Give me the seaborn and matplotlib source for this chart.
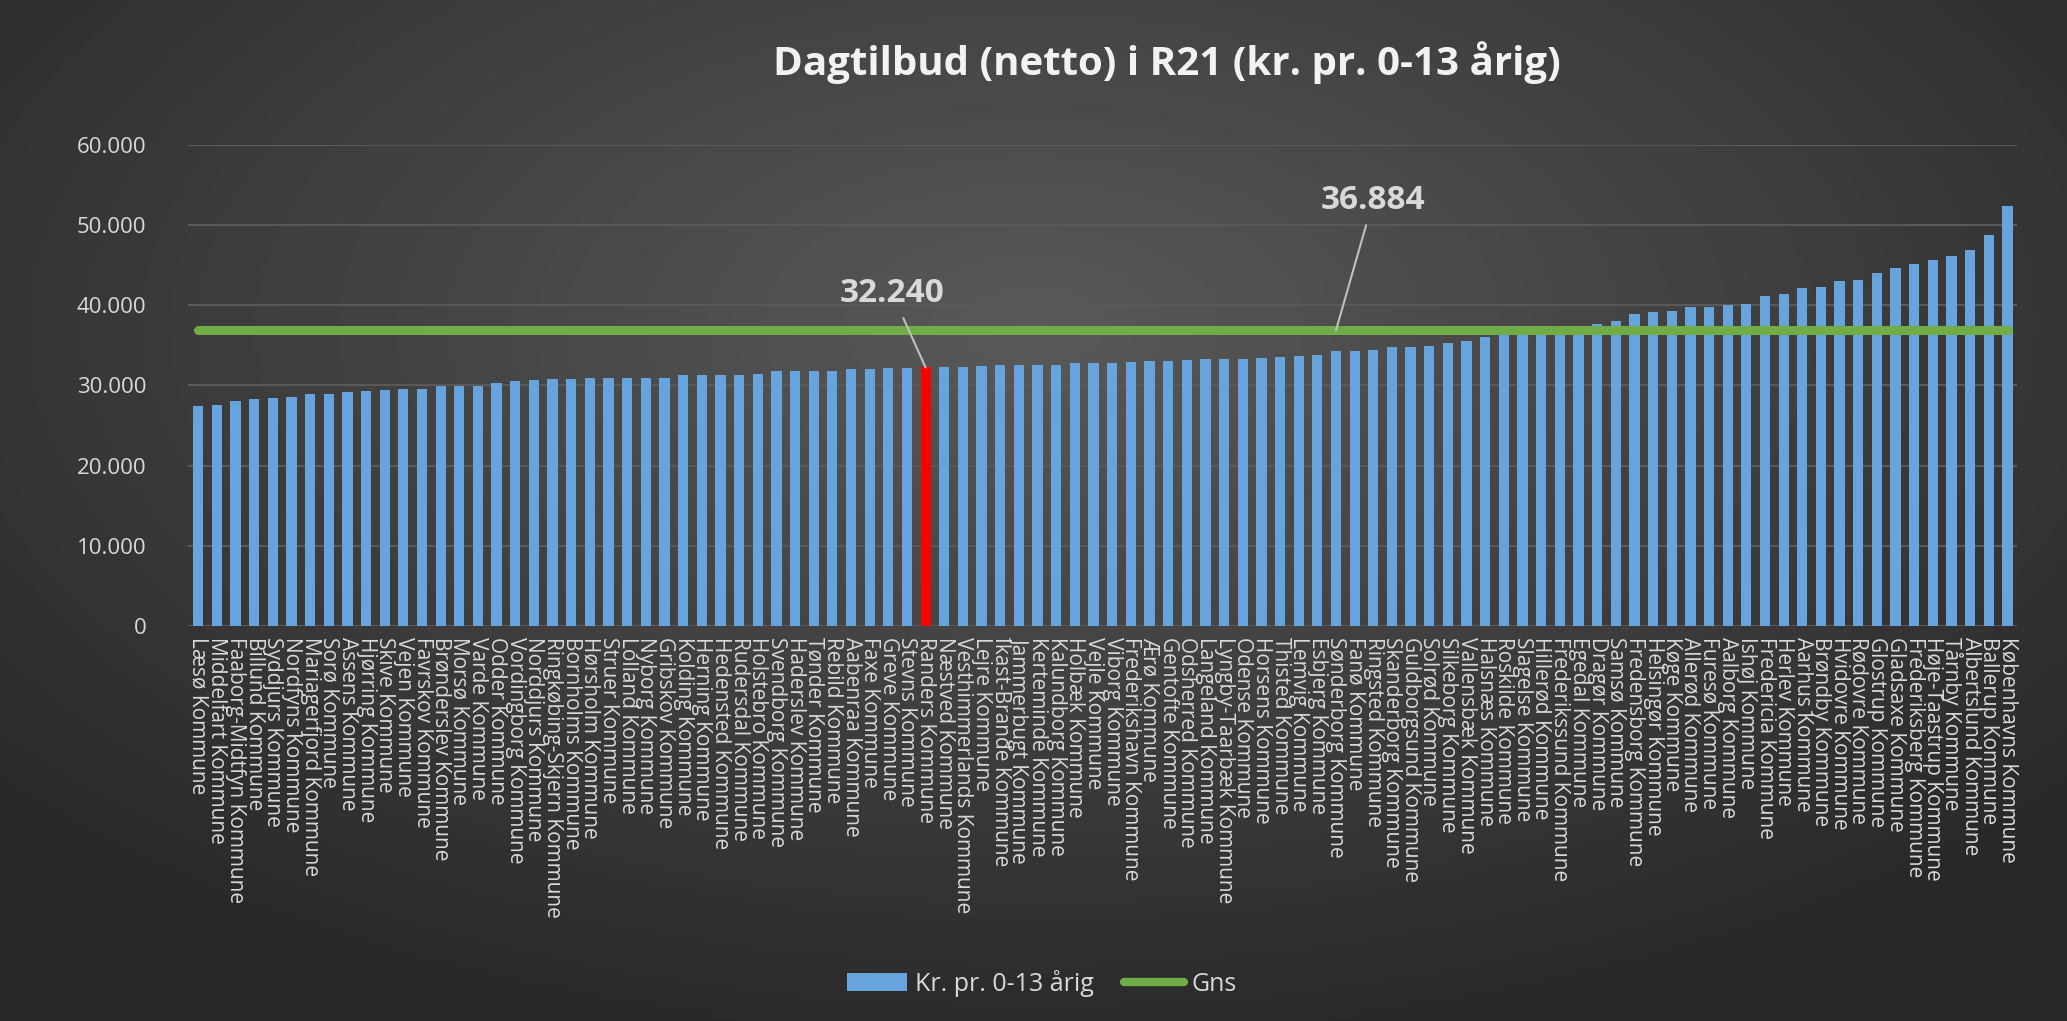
import matplotlib.pyplot as plt
import numpy as np
import pandas as pd
import seaborn as sns
from matplotlib.lines import Line2D
from matplotlib.patches import Patch
from matplotlib.ticker import FuncFormatter

kommuner = [
    "Læsø Kommune", "Middelfart Kommune", "Faaborg-Midtfyn Kommune", "Billund Kommune",
    "Syddjurs Kommune", "Nordfyns Kommune", "Mariagerfjord Kommune", "Sorø Kommune",
    "Assens Kommune", "Hjørring Kommune", "Skive Kommune", "Vejen Kommune",
    "Favrskov Kommune", "Brønderslev Kommune", "Morsø Kommune", "Varde Kommune",
    "Odder Kommune", "Vordingborg Kommune", "Norddjurs Kommune", "Ringkøbing-Skjern Kommune",
    "Bornholms Kommune", "Hørsholm Kommune", "Struer Kommune", "Lolland Kommune",
    "Nyborg Kommune", "Gribskov Kommune", "Kolding Kommune", "Herning Kommune",
    "Hedensted Kommune", "Rudersdal Kommune", "Holstebro Kommune", "Svendborg Kommune",
    "Haderslev Kommune", "Tønder Kommune", "Rebild Kommune", "Aabenraa Kommune",
    "Faxe Kommune", "Greve Kommune", "Stevns Kommune", "Randers Kommune",
    "Næstved Kommune", "Vesthimmerlands Kommune", "Lejre Kommune", "Ikast-Brande Kommune",
    "Jammerbugt Kommune", "Kerteminde Kommune", "Kalundborg Kommune", "Holbæk Kommune",
    "Vejle Kommune", "Viborg Kommune", "Frederikshavn Kommune", "Ærø Kommune",
    "Gentofte Kommune", "Odsherred Kommune", "Langeland Kommune", "Lyngby-Taarbæk Kommune",
    "Odense Kommune", "Horsens Kommune", "Thisted Kommune", "Lemvig Kommune",
    "Esbjerg Kommune", "Sønderborg Kommune", "Fanø Kommune", "Ringsted Kommune",
    "Skanderborg Kommune", "Guldborgsund Kommune", "Solrød Kommune", "Silkeborg Kommune",
    "Vallensbæk Kommune", "Halsnæs Kommune", "Roskilde Kommune", "Slagelse Kommune",
    "Hillerød Kommune", "Frederikssund Kommune", "Egedal Kommune", "Dragør Kommune",
    "Samsø Kommune", "Fredensborg Kommune", "Helsingør Kommune", "Køge Kommune",
    "Allerød Kommune", "Furesø Kommune", "Aalborg Kommune", "Ishøj Kommune",
    "Fredericia Kommune", "Herlev Kommune", "Aarhus Kommune", "Brøndby Kommune",
    "Hvidovre Kommune", "Rødovre Kommune", "Glostrup Kommune", "Gladsaxe Kommune",
    "Frederiksberg Kommune", "Høje-Taastrup Kommune", "Tårnby Kommune", "Albertslund Kommune",
    "Ballerup Kommune", "Københavns Kommune",
]

kr_pr_barn = [
    27400, 27520, 28000, 28260, 28390, 28510, 28890, 28890, 29140, 29260,
    29380, 29500, 29500, 29950, 29970, 29990, 30250, 30500, 30620, 30740,
    30740, 30870, 30870, 30870, 30880, 30890, 31240, 31240, 31250, 31360,
    31370, 31740, 31750, 31760, 31860, 32110, 32110, 32150, 32200, 32240,
    32300, 32310, 32400, 32500, 32510, 32520, 32600, 32750, 32850, 32860,
    32980, 33100, 33110, 33120, 33250, 33290, 33300, 33410, 33540, 33660,
    33790, 34290, 34300, 34410, 34790, 34800, 34910, 35290, 35540, 36040,
    36300, 36500, 36650, 36800, 37000, 37620, 38000, 38870, 39120, 39250,
    39750, 39760, 40000, 40120, 41120, 41370, 42125, 42250, 43000, 43125,
    44000, 44625, 45125, 45625, 46125, 46875, 48750, 52375,
]

gns = 36884
fremhaevet = "Randers Kommune"

serie_navn = "Kr. pr. 0-13 årig"
gns_navn = "Gns"
titel = "Dagtilbud (netto) i R21 (kr. pr. 0-13 årig)"

df = pd.DataFrame({"kommune": kommuner, "kr": kr_pr_barn})
blaa = "#67a3dc"
groen = "#70ad47"
tekst = "#d9d9d9"
farver = ["#ff0000" if k == fremhaevet else blaa for k in kommuner]

sns.set_theme(style="dark")
plt.rcParams["font.family"] = ["Open Sans", "DejaVu Sans"]

fig = plt.figure(figsize=(20.67, 10.21), dpi=100)

# radial background like the excel chart area
bg = fig.add_axes([0, 0, 1, 1], zorder=-5)
yy, xx = np.mgrid[0:1:300j, 0:1:600j]
r = np.sqrt(((xx - 0.5) / 0.7) ** 2 + ((yy - 0.32) / 0.75) ** 2)
shade = np.clip(0.35 - 0.2 * r, 0.16, 0.35)
bg.imshow(shade, cmap="gray", vmin=0, vmax=1, aspect="auto", extent=[0, 1, 1, 0])
bg.set_axis_off()

ax = fig.add_axes([0.091, 0.387, 0.885, 0.471])
ax.set_facecolor("none")

sns.barplot(data=df, x="kommune", y="kr", hue="kommune", palette=farver,
            legend=False, width=0.55, saturation=1, linewidth=0, ax=ax, zorder=2)
ax.plot(df["kommune"], [gns] * len(df), color=groen, lw=6.5, solid_capstyle="round", zorder=3)

ax.set_ylim(0, 60000)
ax.set_xlim(-0.54, 97.53)
ax.set_yticks(np.arange(0, 60001, 10000))
ax.yaxis.set_major_formatter(FuncFormatter(lambda v, p: f"{v:,.0f}".replace(",", ".")))
ax.grid(axis="y", color="#595959", lw=1.5, zorder=0)
ax.grid(axis="x", visible=False)
for s in ax.spines.values():
    s.set_visible(False)
ax.set_xlabel("")
ax.set_ylabel("")
ax.tick_params(axis="y", colors=tekst, labelsize=16, length=0, pad=30)
ax.tick_params(axis="x", colors=tekst, labelsize=15, length=0, pad=8)
plt.setp(ax.get_xticklabels(), rotation=-90, ha="center", va="top")

idx = kommuner.index(fremhaevet)
ax.annotate(f"{kr_pr_barn[idx]:,}".replace(",", "."), xy=(idx, kr_pr_barn[idx]),
            xytext=(idx - 1.8, 41500), ha="center", va="center",
            fontsize=24, fontweight="bold", color=tekst,
            arrowprops=dict(arrowstyle="-", color="#bfbfbf", lw=1.5, shrinkA=4, shrinkB=0))
ax.annotate(f"{gns:,}".replace(",", "."), xy=(61, gns),
            xytext=(63, 53125), ha="center", va="center",
            fontsize=24, fontweight="bold", color=tekst,
            arrowprops=dict(arrowstyle="-", color="#bfbfbf", lw=1.5, shrinkA=4, shrinkB=0))

fig.text(0.5645, 0.939, titel, ha="center", va="center", fontsize=29,
         fontweight="bold", color="#f2f2f2")

handles = [Patch(facecolor=blaa, edgecolor="none", label=serie_navn),
           Line2D([0], [0], color=groen, lw=6, label=gns_navn)]
fig.legend(handles=handles, loc="center", bbox_to_anchor=(0.504, 0.037), ncol=2,
           frameon=False, fontsize=18, labelcolor=tekst, handlelength=2.4,
           handletextpad=0.3, columnspacing=1.2)

fig.savefig("out.png", dpi=100)
